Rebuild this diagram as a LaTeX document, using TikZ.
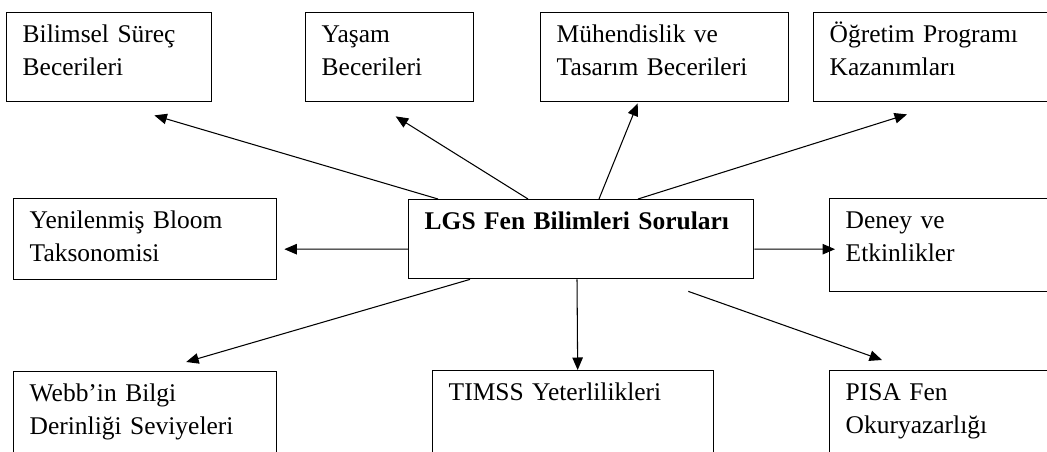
\documentclass[tikz,border=0pt]{standalone}
\usepackage{fontspec}
\setmainfont{Liberation Serif}
\usetikzlibrary{arrows.meta}
\begin{document}
\begin{tikzpicture}[x=0.02cm,y=-0.02cm,>={Triangle[length=0.25cm,width=0.21cm]},
    kutu/.style={draw,line width=0.8pt,anchor=north west,align=left,
        inner xsep=0.32cm,inner ysep=0.18cm,text height=0.42cm,
        font=\fontsize{14.5}{18.8}\selectfont},
    ok/.style={->,line width=0.6pt}]
    \path[use as bounding box,fill=white](0,0) rectangle (1047,452);
    \clip(0,0) rectangle (1047,452);
\node[kutu,text width=3.46cm,text depth=1.0cm] (bss) at (6,12) {Bilimsel Süreç\\Becerileri};
\node[kutu,text width=2.72cm,text depth=1.0cm] (yb) at (305,12) {Yaşam\\Becerileri};
\node[kutu,text width=4.32cm,text depth=1.0cm] (mtb) at (540,12) {Mühendislik ve\\Tasarım Becerileri};
\node[kutu,text width=4.16cm,text depth=1.0cm] (opk) at (813,12) {Öğretim Programı\\Kazanımları};
\node[kutu,text width=4.62cm,text depth=0.84cm] (ybt) at (13,198) {Yenilenmiş Bloom\\Taksonomisi};
\node[kutu,text width=6.26cm,text depth=0.80cm,font=\fontsize{14.5}{18.8}\selectfont\bfseries] (lgs) at (408,199) {LGS Fen Bilimleri Soruları};
\node[kutu,text width=3.96cm,text depth=1.08cm] (de) at (829,198) {Deney ve\\Etkinlikler};
\node[kutu,text width=4.62cm,text depth=1.22cm] (wbd) at (13,371) {Webb’in Bilgi\\Derinliği Seviyeleri};
\node[kutu,text width=4.98cm,text depth=1.22cm] (tim) at (432,370) {TIMSS Yeterlilikleri};
\node[kutu,text width=3.96cm,text depth=1.22cm] (pfo) at (829,370) {PISA Fen\\Okuryazarlığı};

\draw[ok]([shift={(30,0)}]lgs.north west)--([shift={(-58,13)}]bss.south east);
\draw[ok]([shift={(120,0)}]lgs.north west)--([shift={(6,14)}]yb.south);
\draw[ok]([shift={(191,0)}]lgs.north west)--([shift={(-27,1)}]mtb.south);
\draw[ok]([shift={(230,0)}]lgs.north west)--([shift={(94,12)}]opk.south west);
\draw[ok]([shift={(0,10)}]lgs.west)--([shift={(7,10)}]ybt.east);
\draw[ok]([shift={(0,10)}]lgs.east)--([shift={(6,4)}]de.west);
\draw[ok]([shift={(62,0)}]lgs.south west)--([shift={(41,-9)}]wbd.north);
\draw[ok]([shift={(169,0)}]lgs.south west)--([shift={(4.5,0)}]tim.north);
\draw[ok]([shift={(-66,12)}]lgs.south east)--([shift={(53,-10)}]pfo.north west);

\end{tikzpicture}
\end{document}
